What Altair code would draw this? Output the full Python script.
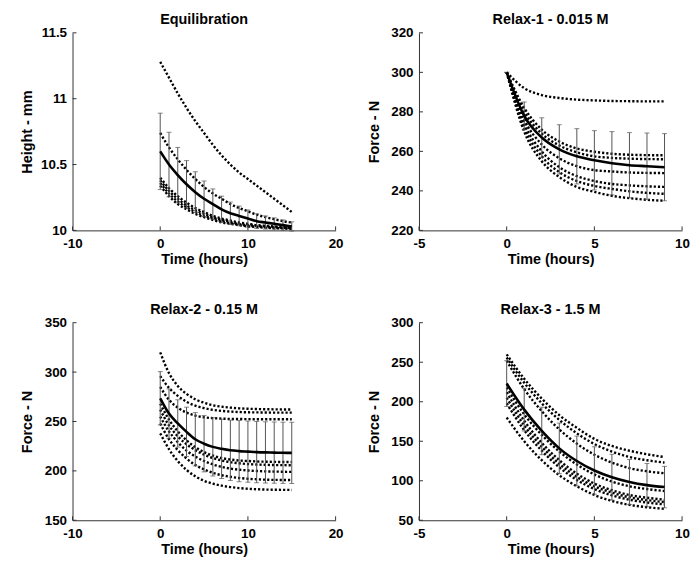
import altair as alt
import pandas as pd

FONT = "Liberation Sans"

# ---------------- Panel 1: Equilibration (Height - mm) ----------------
eq_time = list(range(16))
eq_s1 = [11.28, 11.16, 11.04, 10.93, 10.83, 10.74, 10.65, 10.57, 10.50, 10.44, 10.39, 10.34, 10.29, 10.24, 10.19, 10.14]
eq_s2 = [10.74, 10.63, 10.54, 10.46, 10.39, 10.33, 10.28, 10.24, 10.20, 10.17, 10.145, 10.12, 10.10, 10.085, 10.07, 10.06]
eq_s3 = [10.40, 10.32, 10.26, 10.21, 10.17, 10.14, 10.11, 10.09, 10.075, 10.06, 10.05, 10.04, 10.035, 10.03, 10.025, 10.02]
eq_s4 = [10.38, 10.30, 10.24, 10.19, 10.155, 10.125, 10.10, 10.08, 10.065, 10.05, 10.04, 10.035, 10.03, 10.025, 10.02, 10.018]
eq_s5 = [10.36, 10.28, 10.22, 10.175, 10.14, 10.11, 10.09, 10.07, 10.055, 10.045, 10.035, 10.03, 10.025, 10.02, 10.017, 10.015]
eq_s6 = [10.34, 10.26, 10.20, 10.16, 10.125, 10.10, 10.08, 10.06, 10.05, 10.04, 10.03, 10.025, 10.02, 10.017, 10.015, 10.012]
eq_mean = [10.60, 10.50, 10.42, 10.35, 10.29, 10.24, 10.20, 10.16, 10.13, 10.11, 10.09, 10.07, 10.06, 10.05, 10.04, 10.03]
eq_sd = [0.29, 0.245, 0.21, 0.18, 0.155, 0.135, 0.115, 0.10, 0.085, 0.075, 0.065, 0.055, 0.05, 0.045, 0.04, 0.035]

# ---------------- Panel 2: Relax-1 - 0.015 M (Force - N) ----------------
r1_time = list(range(10))
r1_s1 = [300, 292, 288.5, 287, 286.2, 285.8, 285.5, 285.4, 285.3, 285.3]
r1_s2 = [300, 282, 271, 265, 261.5, 259.8, 258.8, 258.3, 258.1, 258]
r1_s3 = [300, 280, 269, 263, 259.5, 257.5, 256.7, 256.3, 256.1, 256]
r1_s4 = [300, 276, 263.5, 256.5, 252.5, 250.5, 249.8, 249.3, 249.1, 249]
r1_s5 = [300, 274, 260, 252, 247.5, 245, 243.5, 242.8, 242.3, 242]
r1_s6 = [300, 272, 257.5, 249.5, 245, 242.5, 241, 239.8, 239, 238.5]
r1_s7 = [300, 270, 255, 247, 242, 239.5, 237.5, 236.3, 235.5, 235]
r1_mean = [300, 278, 267, 261, 257.5, 255.5, 254, 253, 252.5, 252]
r1_sd = [0, 7, 10, 12.5, 14, 15, 16, 16.5, 16.8, 17]

# ---------------- Panel 3: Relax-2 - 0.15 M (Force - N) ----------------
r2_time = list(range(16))
r2_s1 = [320, 299, 286, 278, 272.5, 269, 266.5, 265, 264, 263.3, 262.9, 262.6, 262.4, 262.3, 262.2, 262.2]
r2_s2 = [296, 284, 276, 270, 266, 263.5, 261.8, 260.7, 260, 259.6, 259.3, 259.2, 259.1, 259, 259, 259]
r2_s3 = [285, 272, 264, 259, 256, 254.3, 253.4, 252.9, 252.6, 252.5, 252.4, 252.3, 252.3, 252.3, 252.3, 252.3]
r2_s4 = [268, 252, 240, 231, 224, 219, 215.5, 213, 211.5, 210.5, 210, 209.5, 209.3, 209.1, 209, 209]
r2_s5 = [262, 246, 235, 227, 221, 216.5, 213, 210.5, 208.8, 207.7, 206.9, 206.4, 206.1, 205.9, 205.8, 205.7]
r2_s6 = [255, 240, 229, 220.5, 214.5, 210, 206.5, 204, 202.3, 201.2, 200.4, 199.9, 199.5, 199.3, 199.1, 199]
r2_s7 = [248, 232, 221, 212.5, 206, 201.5, 198, 195.6, 194, 192.8, 192, 191.5, 191.1, 190.9, 190.8, 190.7]
r2_s8 = [238, 222, 210, 201, 194.5, 190, 187, 185, 183.6, 182.6, 181.9, 181.4, 181.1, 180.9, 180.8, 180.7]
r2_mean = [273.5, 258, 248, 239.5, 232, 227.5, 224.3, 222.3, 220.8, 220, 219.5, 219, 218.7, 218.5, 218.3, 218.2]
r2_sd = [27, 25, 24, 25, 27, 28.5, 29.5, 30, 30.5, 31, 31, 31, 31, 31, 31, 31]

# ---------------- Panel 4: Relax-3 - 1.5 M (Force - N) ----------------
r3_time = list(range(10))
r3_s1 = [260, 229, 204, 183, 167, 153, 144, 138, 133.5, 130]
r3_s2 = [256, 224, 198, 177, 160, 146.5, 137, 130, 126, 123]
r3_s3 = [252, 216, 188, 165, 147, 133, 123, 116, 112, 109.5]
r3_s4 = [218, 184, 158, 137, 120.5, 108, 99, 93, 89.5, 87]
r3_s5 = [212, 176, 148, 126, 109, 96.5, 88, 82, 78.5, 76]
r3_s6 = [205, 170, 143, 121.5, 105, 93, 85, 79, 75.5, 73]
r3_s7 = [198, 164, 138, 117, 101, 89.5, 81.5, 76, 72.5, 70]
r3_s8 = [180, 150, 126, 107, 93, 82, 74.5, 69.5, 66.5, 64.5]
r3_mean = [223, 190, 163, 141, 125, 113, 104.5, 98.5, 94.5, 92]
r3_sd = [29, 27, 30, 32, 31.5, 30, 29, 28.4, 27.4, 26.2]

W, H = 265, 199
INK = "#000000"
AXIS = "#333333"
BAR = "#555555"
LABEL = "'' + datum.value"


def panel(title, time, samples, mean, sd, xdom, xvals, ydom, yvals, ytitle):
    rows = []
    for i, s in enumerate(samples):
        for t, v in zip(time, s):
            rows.append({"t": t, "v": v, "id": i})
    sdf = pd.DataFrame(rows)
    mdf = pd.DataFrame({"t": time, "m": mean, "sd": sd})
    mdf["lo"] = mdf["m"] - mdf["sd"]
    mdf["hi"] = mdf["m"] + mdf["sd"]

    xs = alt.Scale(domain=xdom, nice=False, zero=False)
    ys = alt.Scale(domain=ydom, nice=False, zero=False)
    xaxis = alt.Axis(values=xvals, title="Time (hours)", labelExpr=LABEL, tickSize=0,
                     labelPadding=6, labelFlush=False, titleY=29, titleBaseline="middle",
                     grid=False)
    yaxis = alt.Axis(values=yvals, title=ytitle, labelExpr=LABEL, tickSize=0,
                     labelPadding=6, labelFlush=False, titleX=-45, titleY=H / 2,
                     titleBaseline="middle", titleAngle=270, grid=False)

    def X(f):
        return alt.X(f, type="quantitative", scale=xs, axis=xaxis)

    def Y(f):
        return alt.Y(f, type="quantitative", scale=ys, axis=yaxis)

    lines = alt.Chart(sdf).mark_line(
        color=INK, strokeWidth=2.4, strokeDash=[2.2, 2.0], interpolate="monotone"
    ).encode(x=X("t"), y=Y("v"), detail="id:N")
    bars = alt.Chart(mdf).mark_rule(color=BAR, strokeWidth=1).encode(
        x=X("t"), y=Y("lo"), y2="hi:Q"
    )
    cap_hi = alt.Chart(mdf).mark_tick(color=BAR, orient="horizontal", size=5, thickness=1).encode(
        x=X("t"), y=Y("hi")
    )
    cap_lo = alt.Chart(mdf).mark_tick(color=BAR, orient="horizontal", size=5, thickness=1).encode(
        x=X("t"), y=Y("lo")
    )
    mline = alt.Chart(mdf).mark_line(color=INK, strokeWidth=2.6, interpolate="monotone").encode(
        x=X("t"), y=Y("m")
    )
    xt = alt.Chart(pd.DataFrame({"v": xvals})).mark_rule(color=AXIS, strokeWidth=1).encode(
        x=X("v"), y=alt.value(H), y2=alt.value(H - 4)
    )
    yt = alt.Chart(pd.DataFrame({"v": yvals})).mark_rule(color=AXIS, strokeWidth=1).encode(
        y=Y("v"), x=alt.value(0), x2=alt.value(4)
    )
    return alt.layer(lines, bars, cap_hi, cap_lo, mline, xt, yt).properties(
        width=W, height=H,
        title=alt.TitleParams(title, fontSize=14.5, font=FONT, fontWeight="bold",
                              offset=-2, frame="group", color=INK),
    )


p1 = panel("Equilibration", eq_time, [eq_s1, eq_s2, eq_s3, eq_s4, eq_s5, eq_s6], eq_mean, eq_sd,
           [-10, 20], [-10, 0, 10, 20], [10, 11.5], [10, 10.5, 11, 11.5], "Height - mm")
p2 = panel("Relax-1 - 0.015 M", r1_time, [r1_s1, r1_s2, r1_s3, r1_s4, r1_s5, r1_s6, r1_s7], r1_mean, r1_sd,
           [-5, 10], [-5, 0, 5, 10], [220, 320], [220, 240, 260, 280, 300, 320], "Force - N")
p3 = panel("Relax-2 - 0.15 M", r2_time, [r2_s1, r2_s2, r2_s3, r2_s4, r2_s5, r2_s6, r2_s7, r2_s8], r2_mean, r2_sd,
           [-10, 20], [-10, 0, 10, 20], [150, 350], [150, 200, 250, 300, 350], "Force - N")
p4 = panel("Relax-3 - 1.5 M", r3_time, [r3_s1, r3_s2, r3_s3, r3_s4, r3_s5, r3_s6, r3_s7, r3_s8], r3_mean, r3_sd,
           [-5, 10], [-5, 0, 5, 10], [50, 300], [50, 100, 150, 200, 250, 300], "Force - N")

chart = alt.concat(
    p1, p2, p3, p4, columns=2, bounds="flush",
    spacing={"row": 93, "column": 84},
).properties(
    padding={"left": 12, "top": 2, "right": 0, "bottom": 2},
    background="white",
).configure_view(stroke=None).configure_axis(
    grid=False,
    domainColor=AXIS,
    domainWidth=1,
    labelFont=FONT,
    labelFontSize=13.5,
    labelFontWeight="bold",
    labelColor=INK,
    titleFont=FONT,
    titleFontSize=14.5,
    titleFontWeight="bold",
    titleColor=INK,
)

chart.save("out.html", embed_options={"renderer": "svg", "actions": False})
